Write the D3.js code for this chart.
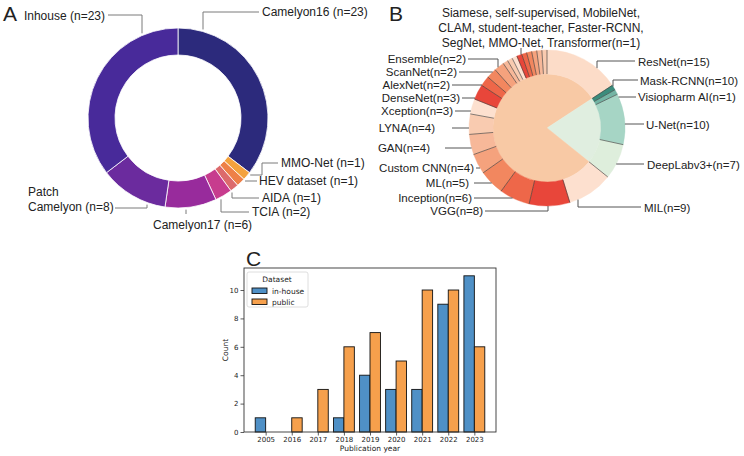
<!DOCTYPE html>
<html>
<head>
<meta charset="utf-8">
<script src="https://cdn.jsdelivr.net/npm/d3@7"></script>
<style>
body{margin:0;background:#fff}
svg text{font-family:"Liberation Sans",Arial,sans-serif;fill:#222}
svg .mpl text{font-family:"DejaVu Sans",sans-serif;fill:#222}
</style>
</head>
<body>
<svg width="744" height="456"></svg>
<script>
/* ---- data: A, datasets (clockwise from 12 o'clock) ---- */
const dsNames=['Camelyon16','MMO-Net','HEV dataset','AIDA','TCIA','Camelyon17','Patch Camelyon','Inhouse'];
const dsCounts=[23,1,1,1,2,6,8,23];
const dsColors=['#2c2a7c','#f4a23e','#ee8048','#dc6a6c','#c73c8e','#982b9c','#6b2b9e','#482a9a'];

/* ---- data: B, models (clockwise from 12 o'clock) ---- */
const mdNames=['ResNet','Mask-RCNN','Visiopharm AI','U-Net','DeepLabv3+','MIL','VGG','Inception','ML',
  'Custom CNN','GAN','LYNA','Xception','DenseNet','AlexNet','ScanNet','Ensemble',
  'Siamese','self-supervised','MobileNet','CLAM','student-teacher','Faster-RCNN','SegNet','MMO-Net','Transformer'];
const mdCounts=[15,1,1,10,7,9,8,6,5,4,4,4,3,3,2,2,2,1,1,1,1,1,1,1,1,1];
// n as printed on the labels
const mdLabelN=[15,10,1,10,7,9,8,6,5,4,4,4,3,3,2,2,2,1,1,1,1,1,1,1,1,1];
const mdGroup=['cls','seg','seg','seg','seg','cls','cls','cls','cls','cls','cls','cls','cls','cls','cls','cls','cls',
  'cls','cls','cls','cls','cls','cls','cls','cls','cls'];

/* ---- data: C, publications per year ---- */
const years=['2005','2016','2017','2018','2019','2020','2021','2022','2023'];
const inhouse=[1,0,0,1,4,3,3,9,11];
const publicDs=[0,1,3,6,7,5,10,10,6];
const yTicks=[0,2,4,6,8,10];
const series=['in-house','public'];

const svg=d3.select('svg');

// leader line from a point on a ring to the label
function leader(g,cx,cy,r,s){
  let p;
  if(s.ax!==undefined) p=[s.ax,cy+s.side*Math.sqrt(r*r-(s.ax-cx)**2)];
  else p=[cx+s.side*Math.sqrt(r*r-(s.ay-cy)**2),s.ay];
  const pts=[p];
  const ly=s.ly!==undefined?s.ly:s.ay;
  if(s.ex!==undefined){pts.push([s.ex,p[1]]);pts.push([s.ex,ly]);}
  else if(s.ax!==undefined) pts.push([p[0],ly]);
  if(s.lx!==undefined) pts.push([s.lx,ly]);
  g.append('path').attr('d',d3.line()(pts))
    .attr('fill','none').attr('stroke',s.stroke||'#7a7a7a').attr('stroke-width',1);
}
function label(g,txt,s,fs){
  const lines=Array.isArray(txt)?txt:[txt];
  const tys=Array.isArray(s.ty)?s.ty:[s.ty];
  lines.forEach((t,i)=>{
    g.append('text').attr('x',s.tx).attr('y',tys[i]).attr('dy','0.35em')
      .attr('text-anchor',s.a||'start').style('font-size',(fs||12)+'px').text(t);
  });
}

/* ================= A ================= */
const cxA=178,cyA=118,rA=90,rAin=63;
const pieA=d3.pie().sort(null)(dsCounts);
const arcA=d3.arc().innerRadius(rAin).outerRadius(rA);
const gA=svg.append('g');
gA.append('g').attr('transform',`translate(${cxA},${cyA})`)
  .selectAll('path').data(pieA).join('path')
  .attr('d',arcA).attr('fill',(d,i)=>dsColors[i])
  .attr('stroke','#fff').attr('stroke-width',0.8);

const layoutA=[
  {ax:203,side:-1,ly:12,lx:259,tx:262,ty:12},
  {ay:175,side:1,ex:262,ly:163,lx:278,tx:281,ty:163},
  {ay:181,side:1,lx:257,tx:259,ty:181},
  {ax:232,side:1,ly:198,lx:259,tx:262,ty:198},
  {ax:221,side:1,ly:212,lx:249,tx:252,ty:212},
  {ax:186,side:1,ly:214,tx:153,ty:225},
  {ax:147,side:1,ly:208,lx:115,tx:28,ty:[192,207],wrap:true},
  {ax:142,side:-1,ly:15,lx:108,tx:105,ty:16,a:'end'}
];
dsNames.forEach((n,i)=>{
  const s=layoutA[i];
  leader(gA,cxA,cyA,rA+2,s);
  let t=`${n} (n=${dsCounts[i]})`;
  if(s.wrap){const k=t.indexOf(' ');t=[t.slice(0,k),t.slice(k+1)];}
  label(gA,t,s,12);
});
svg.append('text').attr('x',3).attr('y',21).style('font-size','21px').text('A');

/* ================= B ================= */
const cxB=547,cyB=128,rB=78,rBin=54;
const reds=['#fde0cf','#e8463a','#ee6749','#f2875f','#f5a27d','#f7b899','#f9cbb0'];
const segPal=['#3b8c7c','#73b4a4','#a6d5c5','#deeedc'];
const mdColor=i=>mdGroup[i]==='seg'?segPal[i-1]:(i===0?'#fcdcc8':reds[(i-5+70)%7]);
const innerColor={cls:'#f8c9a5',seg:'#e0eee0'};

const pieB=d3.pie().sort(null)(mdCounts);
const gB=svg.append('g');
const gBc=gB.append('g').attr('transform',`translate(${cxB},${cyB})`);
// inner pie: consecutive runs of the same group
const runs=[];
pieB.forEach((d,i)=>{
  const last=runs[runs.length-1];
  if(last&&last.g===mdGroup[i]) last.endAngle=d.endAngle;
  else runs.push({g:mdGroup[i],startAngle:d.startAngle,endAngle:d.endAngle});
});
gBc.selectAll('path.inner').data(runs).join('path').attr('class','inner')
  .attr('d',d3.arc().innerRadius(0).outerRadius(rBin))
  .attr('fill',d=>innerColor[d.g]).attr('stroke',d=>innerColor[d.g]).attr('stroke-width',0.5);
gBc.selectAll('path.outer').data(pieB).join('path').attr('class','outer')
  .attr('d',d3.arc().innerRadius(rBin).outerRadius(rB))
  .attr('fill',(d,i)=>mdColor(i)).attr('stroke',(d,i)=>mdColor(i)).attr('stroke-width',0.4);
gBc.selectAll('line.sep').data(pieB).join('line').attr('class','sep')
  .attr('x1',d=>rBin*Math.sin(d.startAngle)).attr('y1',d=>-rBin*Math.cos(d.startAngle))
  .attr('x2',d=>rB*Math.sin(d.startAngle)).attr('y2',d=>-rB*Math.cos(d.startAngle))
  .attr('stroke','#333').attr('stroke-width',0.6);

const layoutB=[
  {ax:597,side:-1,ly:61,lx:635,tx:638,ty:62},
  {ax:613,side:-1,ly:80,lx:638,tx:640,ty:81},
  {ay:97,side:1,lx:636,tx:638,ty:97},
  {ay:124,side:1,lx:644,tx:646,ty:125},
  {ay:164,side:1,lx:644,tx:647,ty:165},
  {ax:578,side:1,ly:207,lx:641,tx:644,ty:208},
  {ax:548,side:1,ly:211,lx:485,tx:483,ty:211,a:'end'},
  {ay:198,side:-1,lx:474,tx:472,ty:197.5,a:'end'},
  {ay:183,side:-1,lx:474,tx:469,ty:183,a:'end'},
  {ay:168,side:-1,lx:476,tx:474,ty:168,a:'end'},
  {ay:148,side:-1,lx:445,tx:430,ty:148,a:'end'},
  {ay:128,side:-1,lx:452,tx:435,ty:128,a:'end'},
  {ay:111,side:-1,lx:455,tx:453,ty:111,a:'end'},
  {ay:98,side:-1,lx:462,tx:460,ty:97.5,a:'end'},
  {ay:85,side:-1,lx:452,tx:450,ty:84.5,a:'end'},
  {ay:72,side:-1,lx:459,tx:457,ty:71.5,a:'end'},
  {ax:498,side:-1,ly:59,lx:468,tx:466,ty:58.5,a:'end'}
];
layoutB.forEach((s,i)=>{
  leader(gB,cxB,cyB,rB,Object.assign({stroke:'#555'},s));
  label(gB,`${mdNames[i]}(n=${mdLabelN[i]})`,s,11.5);
});
// the n=1 group, listed together above the ring
const singles=mdNames.slice(layoutB.length);
const singleLines=[];
for(let k=0;k<singles.length;k+=3) singleLines.push(singles.slice(k,k+3).join(', ')+(k+3<singles.length?',':'(n=1)'));
leader(gB,cxB,cyB,rB,{ax:521,side:-1,ly:48,stroke:'#555'});
label(gB,singleLines,{tx:541,ty:[13,28,43],a:'middle'},12);
svg.append('text').attr('x',389).attr('y',21).style('font-size','21px').text('B');

/* ================= C ================= */
const x0=244,x1=496,y0=268,y1=432;
const gC=svg.append('g').attr('class','mpl');
const xC=d3.scalePoint().domain(years).range([x0,x1]).padding(0.83);
const bw=xC.step()*0.4;
const yMax=d3.max(inhouse.concat(publicDs))*1.05;
const yC=d3.scaleLinear().domain([0,yMax]).range([y1,y0]);
const colC={'in-house':'#4f90c6','public':'#f6a04c'};

const rows=[];
years.forEach((yr,i)=>{
  rows.push({yr,s:'in-house',v:inhouse[i],off:-bw});
  rows.push({yr,s:'public',v:publicDs[i],off:0});
});
gC.selectAll('rect.bar').data(rows.filter(d=>d.v>0)).join('rect').attr('class','bar')
  .attr('x',d=>xC(d.yr)+d.off).attr('width',bw)
  .attr('y',d=>yC(d.v)).attr('height',d=>yC(0)-yC(d.v))
  .attr('fill',d=>colC[d.s]).attr('stroke','#111').attr('stroke-width',0.9);

gC.append('rect').attr('x',x0).attr('y',y0).attr('width',x1-x0).attr('height',y1-y0)
  .attr('fill','none').attr('stroke','#333').attr('stroke-width',0.9);

const ax=gC.append('g').attr('transform',`translate(0,${y1})`)
  .call(d3.axisBottom(xC).tickSize(3.5).tickPadding(2));
const ay=gC.append('g').attr('transform',`translate(${x0},0)`)
  .call(d3.axisLeft(yC).tickValues(yTicks).tickSize(3.5).tickPadding(2));
[ax,ay].forEach(a=>{
  a.select('.domain').remove();
  a.selectAll('.tick line').attr('stroke','#333').attr('stroke-width',0.8);
  a.selectAll('.tick text').style('font-size','7px').attr('fill','#222');
});
gC.append('text').attr('x',(x0+x1)/2).attr('y',451).attr('text-anchor','middle')
  .style('font-size','7.5px').text('Publication year');
gC.append('text').attr('transform',`translate(228,${(y0+y1)/2}) rotate(-90)`)
  .attr('text-anchor','middle').style('font-size','7.5px').text('Count');

// legend
const lg=gC.append('g').attr('transform',`translate(247,272)`);
lg.append('rect').attr('width',61).attr('height',35).attr('rx',2)
  .attr('fill','#fff').attr('fill-opacity',0.85).attr('stroke','#d6d6d6').attr('stroke-width',0.8);
lg.append('text').attr('x',30).attr('y',7).attr('dy','0.35em').attr('text-anchor','middle')
  .style('font-size','7.5px').text('Dataset');
series.forEach((s,i)=>{
  lg.append('rect').attr('x',5).attr('y',16+i*11).attr('width',15).attr('height',5.5)
    .attr('fill',colC[s]).attr('stroke','#111').attr('stroke-width',0.9);
  lg.append('text').attr('x',25).attr('y',19+i*11).attr('dy','0.35em')
    .style('font-size','7.5px').text(s);
});
svg.append('text').attr('x',246).attr('y',266).style('font-size','21px').text('C');
</script>
</body>
</html>
